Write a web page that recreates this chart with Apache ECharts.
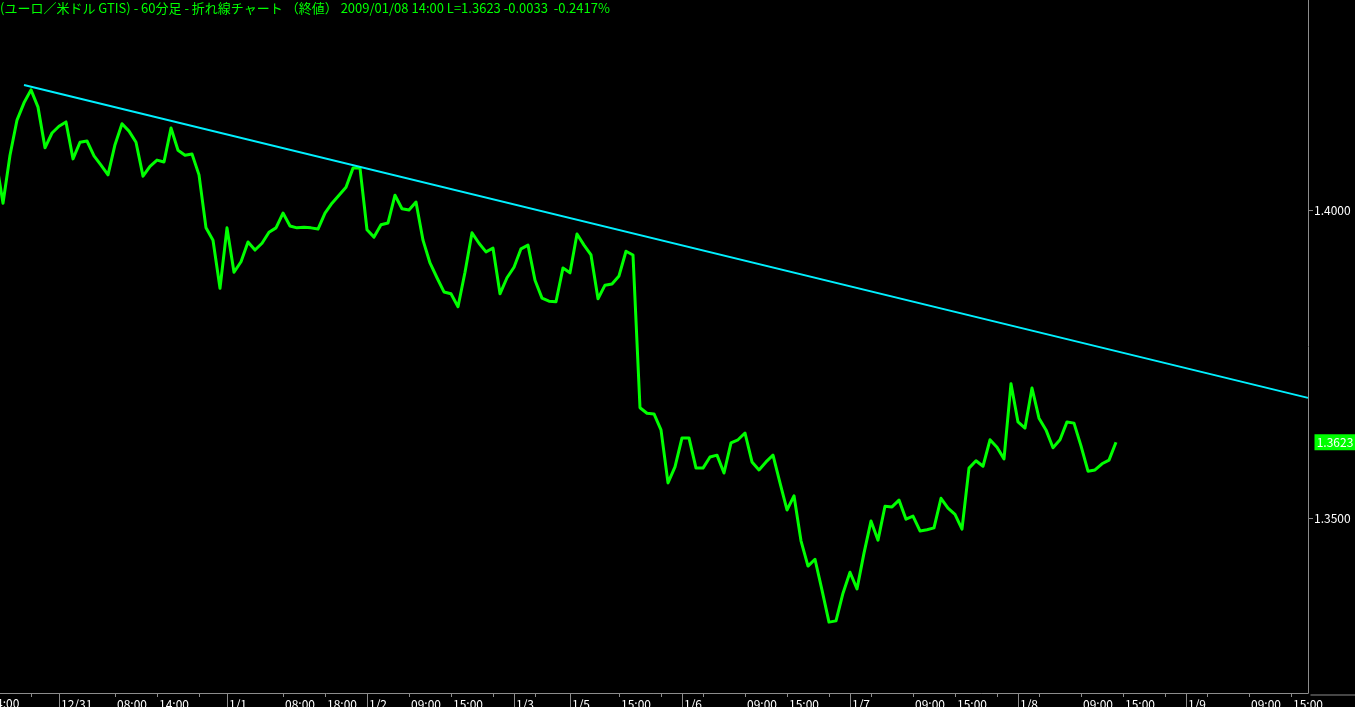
<!DOCTYPE html>
<html><head><meta charset="utf-8">
<script src="https://cdn.jsdelivr.net/npm/echarts@6/dist/echarts.min.js"></script>
<style>html,body{margin:0;padding:0;background:#000;overflow:hidden}#c{width:1355px;height:707px;}</style>
</head><body><div id="c"></div>
<script>
const titleText = '(ユーロ／米ドル GTIS) - 60分足 - 折れ線チャート （終値） 2009/01/08 14:00 L=1.3623 -0.0033  -0.2417%';

// hourly closes, bar 0 = 12/30 14:00 ... bar 161 = 1/8 14:00
const closes = [
  1.4097, 1.4081, 1.4011, 1.4089, 1.4146, 1.4174, 1.4195, 1.4167, 1.4101, 1.4125,
  1.4136, 1.4143, 1.4083, 1.4110, 1.4112, 1.4088, 1.4073, 1.4057, 1.4106, 1.4140,
  1.4128, 1.4110, 1.4055, 1.4071, 1.4081, 1.4078, 1.4133, 1.4097, 1.4089, 1.4091,
  1.4057, 1.3971, 1.3951, 1.3873, 1.3971, 1.3899, 1.3916, 1.3948, 1.3935, 1.3946,
  1.3964, 1.3971, 1.3995, 1.3974, 1.3971, 1.3972, 1.3971, 1.3969, 1.3995, 1.4011,
  1.4024, 1.4037, 1.4068, 1.4068, 1.3968, 1.3956, 1.3976, 1.3979, 1.4024, 1.4002,
  1.4000, 1.4013, 1.3951, 1.3914, 1.3890, 1.3867, 1.3864, 1.3843, 1.3899, 1.3963,
  1.3946, 1.3932, 1.3938, 1.3864, 1.3890, 1.3907, 1.3937, 1.3943, 1.3886, 1.3857,
  1.3852, 1.3851, 1.3906, 1.3898, 1.3961, 1.3943, 1.3927, 1.3856, 1.3878, 1.3880,
  1.3893, 1.3933, 1.3927, 1.3679, 1.3670, 1.3669, 1.3643, 1.3557, 1.3583, 1.3630,
  1.3630, 1.3581, 1.3581, 1.3599, 1.3602, 1.3573, 1.3622, 1.3627, 1.3638, 1.3591,
  1.3578, 1.3591, 1.3602, 1.3557, 1.3513, 1.3536, 1.3463, 1.3422, 1.3433, 1.3383,
  1.3331, 1.3333, 1.3378, 1.3412, 1.3385, 1.3443, 1.3495, 1.3464, 1.3519, 1.3518,
  1.3529, 1.3498, 1.3503, 1.3479, 1.3481, 1.3484, 1.3532, 1.3516, 1.3506, 1.3482,
  1.3581, 1.3593, 1.3584, 1.3627, 1.3615, 1.3596, 1.3718, 1.3656, 1.3646, 1.3711,
  1.3662, 1.3643, 1.3614, 1.3627, 1.3656, 1.3654, 1.3617, 1.3576, 1.3578, 1.3588,
  1.3594, 1.3623
];

// time ticks: [bar index, label]
const hourTicks = [
  [6,''],[18,'08:00'],[24,'14:00'],[30,''],[42,'08:00'],[48,'18:00'],
  [60,'09:00'],[66,'15:00'],[72,''],[78,''],[90,'15:00'],[96,''],[102,''],
  [108,'09:00'],[114,'15:00'],[120,''],[126,''],[132,'09:00'],[138,'15:00'],[144,''],
  [150,''],[156,'09:00'],[162,'15:00'],[168,''],[174,''],[180,'09:00'],[186,'15:00']
];
const dayTicks = [
  [10,'12/31'],[34,'1/1'],[54,'1/2'],[75,'1/3'],[83,'1/5'],[99,'1/6'],[123,'1/7'],[147,'1/8'],[171,'1/9']
];
const clippedLabel = '4:00';   // tail of the "14:00" label cut by the left edge

const trendLine = [[5, 1.4203], [188.43, 1.3695]];
const yTicks = [1.35, 1.40];
const lastClose = 1.3623;
const xMin = 1.571, xMax = 188.43;
const yMin = 1.321591, yMax = 1.434091;

const FONT = '"Noto Sans CJK JP", "DejaVu Sans", sans-serif';
const hourMap = Object.fromEntries(hourTicks);
const dayMap = Object.fromEntries(dayTicks);
const AXIS_GREY = '#8c8c8c';

const chart = echarts.init(document.getElementById('c'), null, {renderer: 'canvas'});
chart.setOption({
  backgroundColor: '#000',
  animation: false,
  title: [{
    text: titleText, left: 0, top: 2, padding: 0,
    textStyle: {color: '#00ff00', fontSize: 13, fontWeight: 'normal', fontFamily: FONT}
  }, {
    text: clippedLabel, left: -4, top: 697, padding: 0,
    textStyle: {color: '#fff', fontSize: 12, fontWeight: 'normal', fontFamily: FONT}
  }],
  grid: {left: 0, right: 47, top: 0, bottom: 14, containLabel: false, outerBoundsMode: 'none'},
  graphic: [{
    type: 'line', left: 1308, top: 692.5, silent: true,
    shape: {x1: 0, y1: 0, x2: 47, y2: 0},
    style: {stroke: AXIS_GREY, lineWidth: 1}
  }],
  xAxis: [
    {
      type: 'value', min: xMin, max: xMax, position: 'bottom',
      splitLine: {show: false},
      axisLine: {show: true, onZero: false, lineStyle: {color: AXIS_GREY, width: 1}},
      axisTick: {show: true, customValues: hourTicks.map(t => t[0]), length: 4,
                 lineStyle: {color: AXIS_GREY}},
      axisLabel: {show: true, customValues: hourTicks.map(t => t[0]),
                  formatter: v => hourMap[v] || '', color: '#fff', fontSize: 12,
                  fontFamily: FONT, align: 'left', verticalAlign: 'top', margin: 5,
                  padding: [0, 0, 0, 2], hideOverlap: false}
    },
    {
      type: 'value', min: xMin, max: xMax, position: 'bottom',
      splitLine: {show: false},
      axisLine: {show: false, onZero: false},
      axisTick: {show: true, customValues: dayTicks.map(t => t[0]), length: 16,
                 lineStyle: {color: AXIS_GREY}},
      axisLabel: {show: true, customValues: dayTicks.map(t => t[0]),
                  formatter: v => dayMap[v] || '', color: '#fff', fontSize: 12,
                  fontFamily: FONT, align: 'left', verticalAlign: 'top', margin: 5,
                  padding: [0, 0, 0, 2], hideOverlap: false}
    }
  ],
  yAxis: {
    type: 'value', position: 'right', min: yMin, max: yMax,
    splitLine: {show: false},
    axisLine: {show: true, onZero: false, lineStyle: {color: AXIS_GREY, width: 1}},
    axisTick: {show: true, customValues: yTicks, length: 5, lineStyle: {color: AXIS_GREY}},
    axisLabel: {show: true, customValues: yTicks, formatter: v => v.toFixed(4),
                color: '#fff', fontSize: 12, fontFamily: FONT, margin: 6}
  },
  series: [
    {
      type: 'line', xAxisIndex: 0, showSymbol: false, symbol: 'none', silent: true,
      data: closes.map((v, i) => [i, v]),
      lineStyle: {color: '#00ff00', width: 3, join: 'round'},
      markPoint: {
        silent: true, symbol: 'rect', symbolSize: [41, 16], symbolOffset: [27, 0],
        itemStyle: {color: '#00ff00'},
        label: {show: true, position: 'inside', formatter: lastClose.toFixed(4),
                color: '#fff', fontSize: 12, fontFamily: FONT},
        data: [{coord: [xMax, lastClose]}]
      }
    },
    {
      type: 'line', xAxisIndex: 0, showSymbol: false, symbol: 'none', silent: true,
      data: trendLine,
      lineStyle: {color: '#00f0ff', width: 2}
    }
  ]
});
</script></body></html>
